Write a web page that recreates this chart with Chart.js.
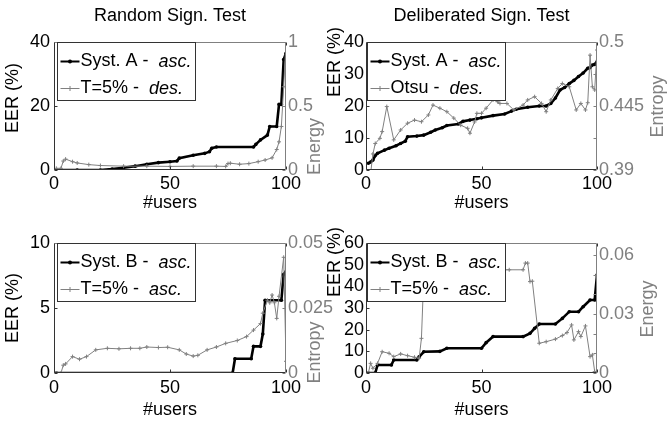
<!DOCTYPE html>
<html>
<head>
<meta charset="utf-8">
<script src="https://cdn.jsdelivr.net/npm/chart.js@4.4.1/dist/chart.umd.min.js"></script>
<style>
  body { margin: 0; background: #fff; }
  #fig { position: relative; width: 667px; height: 421px; overflow: hidden; background: #fff; }
  canvas { position: absolute; }
</style>
</head>
<body>
<div id="fig">
  <canvas id="g1" width="333" height="215" style="left:0;top:0"></canvas>
  <canvas id="g2" width="345" height="215" style="left:322px;top:0"></canvas>
  <canvas id="g3" width="333" height="211" style="left:0;top:210px"></canvas>
  <canvas id="g4" width="345" height="211" style="left:322px;top:210px"></canvas>
</div>
<script>
// Datos (usuarios 1..100)

// Random Sign. Test - arriba
const usrSistA1 = [1, 10, 20, 25, 30, 35, 40, 45, 50, 53, 54, 60, 65, 67, 68, 70, 86, 87, 89, 92, 93, 96, 97, 98, 99, 100];
const eerSistA1 = [0, 0, 0, 0.3, 0.7, 1.2, 1.8, 2.3, 2.6, 2.8, 3.7, 4.6, 5.2, 5.7, 6.8, 7.2, 7.2, 8.0, 9.4, 10.9, 13.6, 13.6, 20.5, 20.5, 34.5, 36.5];
const usrT5des = [1, 3, 4, 5, 8, 10, 15, 20, 30, 40, 50, 60, 70, 74, 75, 76, 80, 84, 88, 91, 94, 96, 97, 98, 99, 100];
const energiaT5des = [0.013, 0.013, 0.07, 0.085, 0.065, 0.055, 0.042, 0.035, 0.03, 0.03, 0.028, 0.03, 0.03, 0.028, 0.05, 0.053, 0.045, 0.05, 0.065, 0.078, 0.095, 0.16, 0.22, 0.34, 0.65, 1.0];

// Deliberated Sign. Test - arriba
const usrSistA2 = [1, 2, 3, 4, 5, 8, 10, 13, 15, 17, 18, 22, 25, 28, 30, 33, 35, 40, 42, 45, 48, 50, 55, 60, 63, 65, 70, 75, 78, 80, 82, 84, 86, 88, 90, 92, 94, 96, 97, 98, 99, 100];
const eerSistA2 = [2.1, 2.5, 3.1, 4.5, 5.2, 6.2, 6.8, 7.6, 8.3, 9.0, 10.4, 10.6, 10.9, 11.8, 12.5, 13.2, 13.9, 14.4, 15.2, 15.6, 16.0, 16.3, 17.0, 17.5, 18.4, 19.0, 19.6, 20.0, 20.0, 20.8, 22.5, 25.0, 25.8, 27.0, 28.0, 29.2, 30.3, 31.8, 32.0, 32.8, 33.0, 33.8];
const usrOtsu = [1, 2, 3, 4, 6, 7, 9, 12, 15, 18, 21, 24, 27, 29, 32, 35, 38, 41, 44, 45, 47, 48, 50, 52, 55, 57, 58, 61, 64, 68, 70, 73, 76, 78, 80, 83, 85, 88, 91, 93, 95, 96, 97, 98, 99, 100];
const entropiaOtsu = [0.3818, 0.3873, 0.4038, 0.4128, 0.4172, 0.423, 0.4445, 0.4159, 0.4244, 0.4302, 0.4329, 0.4315, 0.4373, 0.4458, 0.4431, 0.4401, 0.4346, 0.4285, 0.4258, 0.4216, 0.4313, 0.4387, 0.4387, 0.4431, 0.4502, 0.4486, 0.4472, 0.4472, 0.4416, 0.4458, 0.4502, 0.453, 0.4472, 0.4401, 0.4502, 0.4601, 0.4643, 0.4615, 0.4416, 0.4472, 0.4416, 0.4478, 0.4887, 0.4615, 0.4588, 0.4931];

// Random Sign. Test - abajo
const usrSistB1 = [1, 77, 78, 85, 86, 89, 90, 91, 98, 99, 100];
const eerSistB1 = [0, 0, 1.1, 1.1, 2.05, 2.05, 3.0, 5.6, 5.6, 7.6, 7.8];
const usrT5asc1 = [1, 3, 4, 5, 8, 11, 14, 18, 23, 28, 33, 37, 40, 45, 49, 54, 57, 60, 62, 66, 70, 74, 79, 83, 86, 89, 90, 92, 93, 94, 95, 96, 97, 99, 100];
const entropiaT5asc1 = [0, 0, 0.003, 0.0035, 0.0063, 0.0053, 0.0063, 0.0089, 0.0095, 0.0093, 0.0095, 0.0095, 0.01, 0.0098, 0.0099, 0.0089, 0.0073, 0.0065, 0.0068, 0.0089, 0.01, 0.0114, 0.0125, 0.014, 0.0165, 0.019, 0.023, 0.028, 0.027, 0.03, 0.027, 0.021, 0.0295, 0.0445, 0.0045];

// Deliberated Sign. Test - abajo
const usrSistB2 = [1, 4, 5, 11, 12, 22, 23, 25, 32, 35, 50, 52, 55, 68, 71, 73, 75, 82, 85, 88, 92, 94, 97, 99, 100];
const eerSistB2 = [0, 0, 3.7, 3.7, 6, 6, 7.5, 9.8, 10, 11.4, 11.4, 14, 16.8, 16.8, 18.3, 20.6, 22.6, 22.6, 25.2, 28.3, 28.3, 30.6, 33.7, 33.7, 45.2];
const usrT5asc2 = [1, 2, 3, 5, 7, 10, 12, 15, 18, 21, 23, 24, 25, 40, 60, 62, 68, 69, 70, 71, 72, 75, 78, 82, 85, 87, 89, 90, 92, 93, 95, 97, 98, 99, 100];
const energiaT5asc2 = [0, 0.0049, 0.0024, 0.0049, 0.0108, 0.01, 0.0083, 0.0097, 0.0088, 0.008, 0.0075, 0.0176, 0.049, 0.051, 0.0524, 0.0524, 0.0524, 0.0558, 0.0558, 0.0464, 0.0466, 0.0151, 0.0159, 0.0172, 0.019, 0.0205, 0.0244, 0.0168, 0.021, 0.0185, 0.0239, 0.0083, 0.0092, 0.0007, 0];

// Marcas de los ejes
const ticksUsuarios = [0, 50, 100];
const ticksEer1 = [0, 20, 40];
const ticksEnergia1 = [0, 0.5, 1];
const etiqEnergia1 = ['0', '0.5', '1'];
const ticksEer2 = [0, 10, 20, 30, 40];
const ticksEntropia2 = [0.39, 0.4175, 0.445, 0.4725, 0.5];
const etiqEntropia2 = ['0.39', '', '0.445', '', '0.5'];
const ticksEer3 = [0, 5, 10];
const ticksEntropia3 = [0, 0.025, 0.05];
const etiqEntropia3 = ['0', '0.025', '0.05'];
const ticksEer4 = [0, 10, 20, 30, 40, 50, 60];
const ticksEnergia4 = [0, 0.01, 0.02, 0.03, 0.04, 0.05, 0.06];
const etiqEnergia4 = ['0', '', '', '0.03', '', '', '0.06'];

const fuente = "'Liberation Sans', Arial, Helvetica, sans-serif";
const NEGRO = '#000000';
const GRIS = '#808080';

Chart.defaults.font.family = fuente;
Chart.defaults.font.size = 18;
Chart.defaults.color = NEGRO;

function serie(xs, ys) {
    return xs.map((x, i) => ({ x: x, y: ys[i] }));
}

// Dibuja marco, marcas hacia dentro, textos y leyenda
function crearMarco(c) {
    return {
        id: 'marco',
        afterDatasetsDraw(chart) {
            const ctx = chart.ctx, a = chart.chartArea;
            const sx = chart.scales.x, sy = chart.scales.y, sy1 = chart.scales.y1;
            const L = Math.round(a.left) + 0.5, R = Math.round(a.right) - 0.5;
            const T = Math.round(a.top) + 0.5, B = Math.round(a.bottom) - 0.5;
            ctx.save();
            ctx.lineWidth = 1;

            ctx.strokeStyle = '#333333';
            ctx.beginPath();
            sx.ticks.forEach(t => {
                const p = Math.round(sx.getPixelForValue(t.value)) + 0.5;
                ctx.moveTo(p, B); ctx.lineTo(p, B - 3);
                ctx.moveTo(p, T); ctx.lineTo(p, T + 3);
            });
            sy.ticks.forEach(t => {
                const p = Math.round(sy.getPixelForValue(t.value)) + 0.5;
                ctx.moveTo(L, p); ctx.lineTo(L + 3, p);
            });
            ctx.moveTo(L, T); ctx.lineTo(L, B); ctx.lineTo(R, B);
            ctx.stroke();

            ctx.strokeStyle = GRIS;
            ctx.beginPath();
            sy1.ticks.forEach(t => {
                const p = Math.round(sy1.getPixelForValue(t.value)) + 0.5;
                ctx.moveTo(R, p); ctx.lineTo(R - 3, p);
            });
            ctx.moveTo(L, T); ctx.lineTo(R, T); ctx.lineTo(R, B);
            ctx.stroke();

            // textos
            ctx.font = '18px ' + fuente;
            ctx.textBaseline = 'middle';
            ctx.textAlign = 'center';
            ctx.fillStyle = NEGRO;
            const cx = (a.left + a.right) / 2;
            if (c.titulo) ctx.fillText(c.titulo, cx, 16.5);
            ctx.fillText('#users', cx, c.yUsers);
            ctx.save();
            ctx.translate(13, c.yEer);
            ctx.rotate(-Math.PI / 2);
            ctx.fillText('EER (%)', 0, 0);
            ctx.restore();
            ctx.save();
            ctx.fillStyle = GRIS;
            ctx.translate(c.derX, c.derY);
            ctx.rotate(-Math.PI / 2);
            ctx.fillText(c.tituloDer, 0, 0);
            ctx.restore();

            // leyenda
            ctx.textAlign = 'left';
            let anchoTexto = 0;
            c.leyenda.forEach(e => {
                ctx.font = '18px ' + fuente;
                let w = ctx.measureText(e.normal).width;
                ctx.font = 'italic 18px ' + fuente;
                w += ctx.measureText(e.cursiva).width;
                anchoTexto = Math.max(anchoTexto, w);
            });
            const lx = Math.round(a.left + c.dxLeyenda) + 0.5, ly = T;
            const lw = Math.round(23 + anchoTexto + 4), lh = 58;
            ctx.fillStyle = '#ffffff';
            ctx.fillRect(lx, ly, lw, lh);
            ctx.strokeStyle = '#333333';
            ctx.strokeRect(lx, ly, lw, lh);
            c.leyenda.forEach((e, i) => {
                const yy = ly + (i === 0 ? 19 : 46);
                ctx.strokeStyle = e.color;
                ctx.fillStyle = e.color;
                ctx.lineWidth = e.grosor;
                ctx.beginPath();
                ctx.moveTo(lx + 3, yy); ctx.lineTo(lx + 22, yy);
                ctx.stroke();
                ctx.lineWidth = 1;
                if (e.color === NEGRO) {
                    ctx.beginPath();
                    ctx.arc(lx + 12.5, yy, 2, 0, Math.PI * 2);
                    ctx.fill();
                } else {
                    ctx.beginPath();
                    ctx.moveTo(lx + 10, yy); ctx.lineTo(lx + 15, yy);
                    ctx.moveTo(lx + 12.5, yy - 2.5); ctx.lineTo(lx + 12.5, yy + 2.5);
                    ctx.stroke();
                }
                ctx.fillStyle = NEGRO;
                ctx.font = '18px ' + fuente;
                ctx.fillText(e.normal, lx + 23, yy);
                const w = ctx.measureText(e.normal).width;
                ctx.font = 'italic 18px ' + fuente;
                ctx.fillText(e.cursiva, lx + 23 + w, yy);
            });
            ctx.restore();
        }
    };
}

function crearGrafico(id, c) {
    const ctx = document.getElementById(id).getContext('2d');
    return new Chart(ctx, {
        type: 'line',
        data: {
            datasets: [{
                data: serie(c.negraX, c.negraY),
                yAxisID: 'y',
                borderColor: NEGRO,
                backgroundColor: NEGRO,
                borderWidth: 2.6,
                pointRadius: 1.8,
                pointBorderWidth: 0,
                pointStyle: 'circle',
                tension: 0,
                order: 1
            }, {
                data: serie(c.grisX, c.grisY),
                yAxisID: 'y1',
                borderColor: GRIS,
                backgroundColor: GRIS,
                borderWidth: 1,
                pointRadius: 2,
                pointBorderWidth: 1,
                pointStyle: 'cross',
                tension: 0,
                order: 0
            }]
        },
        options: {
            responsive: false,
            animation: false,
            events: [],
            layout: { padding: { top: c.arriba, left: 0, right: 0, bottom: 0 } },
            plugins: { legend: { display: false }, tooltip: { enabled: false } },
            scales: {
                x: {
                    type: 'linear', min: 0, max: 100,
                    grid: { display: false, drawTicks: false },
                    border: { display: false },
                    afterBuildTicks: s => { s.ticks = ticksUsuarios.map(v => ({ value: v })); },
                    afterFit: s => { s.height = c.abajo; },
                    ticks: { padding: c.padX, autoSkip: false, maxRotation: 0, callback: v => String(v) }
                },
                y: {
                    type: 'linear', position: 'left', min: 0, max: c.eerMax,
                    grid: { display: false, drawTicks: false },
                    border: { display: false },
                    afterBuildTicks: s => { s.ticks = c.ticksEer.map(v => ({ value: v })); },
                    afterFit: s => { s.width = c.izq; },
                    ticks: { padding: c.padIzq, autoSkip: false, callback: v => String(v) }
                },
                y1: {
                    type: 'linear', position: 'right', min: c.derMin, max: c.derMax,
                    grid: { display: false, drawTicks: false },
                    border: { display: false },
                    afterBuildTicks: s => { s.ticks = c.ticksDer.map(v => ({ value: v })); },
                    afterFit: s => { s.width = c.der; },
                    ticks: { padding: 2, color: GRIS, autoSkip: false, callback: (v, i) => c.etiqDer[i] }
                }
            }
        },
        plugins: [crearMarco(c)]
    });
}

crearGrafico('g1', {
    titulo: 'Random Sign. Test', tituloDer: 'Energy',
    negraX: usrSistA1, negraY: eerSistA1, grisX: usrT5des, grisY: energiaT5des,
    eerMax: 40, ticksEer: ticksEer1, derMin: 0, derMax: 1, ticksDer: ticksEnergia1, etiqDer: etiqEnergia1,
    arriba: 42, abajo: 45, izq: 54, der: 47, padX: 3, padIzq: 4,
    yUsers: 203.5, yEer: 98, derX: 315, derY: 146.5, dxLeyenda: 3,
    leyenda: [
        { normal: 'Syst. A -  ', cursiva: 'asc.', color: NEGRO, grosor: 2 },
        { normal: 'T=5% -  ', cursiva: 'des.', color: GRIS, grosor: 1 }
    ]
});

crearGrafico('g2', {
    titulo: 'Deliberated Sign. Test', tituloDer: 'Entropy',
    negraX: usrSistA2, negraY: eerSistA2, grisX: usrOtsu, grisY: entropiaOtsu,
    eerMax: 40, ticksEer: ticksEer2, derMin: 0.39, derMax: 0.5, ticksDer: ticksEntropia2, etiqDer: etiqEntropia2,
    arriba: 42, abajo: 45, izq: 44, der: 70, padX: 3, padIzq: 2,
    yUsers: 203.5, yEer: 62, derX: 336, derY: 106.5, dxLeyenda: 1,
    leyenda: [
        { normal: 'Syst. A -  ', cursiva: 'asc.', color: NEGRO, grosor: 2 },
        { normal: 'Otsu -  ', cursiva: 'des.', color: GRIS, grosor: 1 }
    ]
});

crearGrafico('g3', {
    titulo: null, tituloDer: 'Entropy',
    negraX: usrSistB1, negraY: eerSistB1, grisX: usrT5asc1, grisY: entropiaT5asc1,
    eerMax: 10, ticksEer: ticksEer3, derMin: 0, derMax: 0.05, ticksDer: ticksEntropia3, etiqDer: etiqEntropia3,
    arriba: 33, abajo: 48, izq: 54, der: 47, padX: 4, padIzq: 4,
    yUsers: 200, yEer: 98, derX: 315, derY: 142.5, dxLeyenda: 3,
    leyenda: [
        { normal: 'Syst. B -  ', cursiva: 'asc.', color: NEGRO, grosor: 2 },
        { normal: 'T=5% -  ', cursiva: 'asc.', color: GRIS, grosor: 1 }
    ]
});

crearGrafico('g4', {
    titulo: null, tituloDer: 'Energy',
    negraX: usrSistB2, negraY: eerSistB2, grisX: usrT5asc2, grisY: energiaT5asc2,
    eerMax: 60, ticksEer: ticksEer4, derMin: 0, derMax: 0.066, ticksDer: ticksEnergia4, etiqDer: etiqEnergia4,
    arriba: 33, abajo: 48, izq: 44, der: 70, padX: 4, padIzq: 2,
    yUsers: 200, yEer: 52, derX: 326, derY: 99, dxLeyenda: 1,
    leyenda: [
        { normal: 'Syst. B -  ', cursiva: 'asc.', color: NEGRO, grosor: 2 },
        { normal: 'T=5% -  ', cursiva: 'asc.', color: GRIS, grosor: 1 }
    ]
});
</script>
</body>
</html>
